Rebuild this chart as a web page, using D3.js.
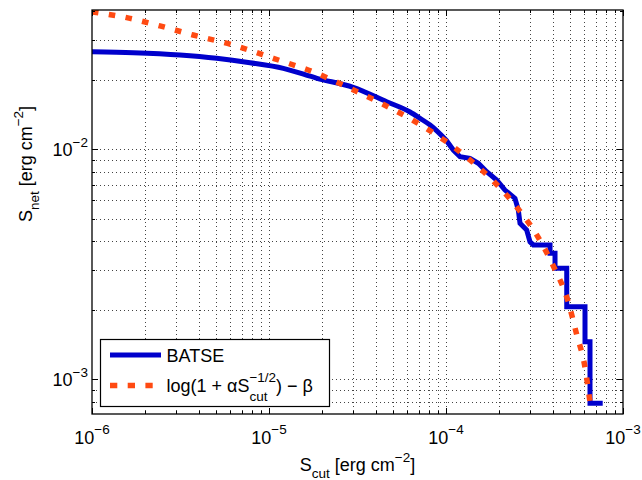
<!DOCTYPE html>
<html>
<head>
<meta charset="utf-8">
<script src="https://cdn.jsdelivr.net/npm/d3@7"></script>
<style>
  html, body { margin: 0; padding: 0; background: #fff; }
  svg text { font-family: "Liberation Sans", Arial, Helvetica, sans-serif; fill: #000; }
</style>
</head>
<body>
<div id="chart"></div>
<script>
// ---------------------------------------------------------------------------
// Data
// ---------------------------------------------------------------------------
// BATSE cumulative curve; the first SMOOTH_N points are the smooth part,
// the rest is the staircase tail.
const batseX = [1e-6, 1.712e-6, 3.14e-6, 5.06e-6, 7.81e-6, 1.205e-5, 1.866e-5, 2.99e-5,
  4.62e-5, 6.26e-5, 7.13e-5, 8.13e-5, 1.0e-4,
  1.1e-4, 1.2e-4, 1.366e-4, 1.522e-4, 1.698e-4, 1.934e-4, 2.154e-4, 2.453e-4,
  2.562e-4, 2.619e-4, 2.857e-4, 2.983e-4, 3.113e-4, 3.87e-4, 3.87e-4, 4.13e-4,
  4.13e-4, 4.81e-4, 4.81e-4, 6.10e-4, 6.10e-4, 6.51e-4, 6.51e-4, 7.68e-4];
const batseY = [0.02656, 0.0263, 0.0257, 0.02487, 0.02379, 0.0225, 0.02036, 0.01861,
  0.01611, 0.01453, 0.01364, 0.01275, 0.01098,
  0.00993, 0.00929, 0.00914, 0.00869, 0.00799, 0.00735, 0.00665, 0.00612,
  0.00545, 0.00477, 0.00446, 0.00396, 0.00384, 0.00384, 0.00353, 0.00353,
  0.00304, 0.00304, 0.00207, 0.00207, 0.001457, 0.001457, 7.86e-4, 7.86e-4];
const SMOOTH_N = 13;

// fitted curve log(1 + a S^-1/2) - b
const fitX = [1e-6, 1.64e-6, 2.42e-6, 3.73e-6, 6.28e-6, 1.057e-5, 1.86e-5, 2.87e-5,
  4.24e-5, 6.32e-5, 9.33e-5, 1.349e-4, 1.866e-4, 2.54e-4, 3.30e-4, 4.07e-4, 4.87e-4,
  5.47e-4, 6.10e-4, 6.51e-4];
const fitY = [0.0396, 0.0371, 0.0344, 0.0314, 0.0284, 0.02487, 0.0214, 0.01842,
  0.01594, 0.01354, 0.01123, 0.00907, 0.00723, 0.00554, 0.00417, 0.00307, 0.00221,
  0.00157, 0.001127, 7.94e-4];

const xDomain = [1e-6, 1e-3];
const yDomain = [7.065e-4, 0.04034];
const xTickValues = [1e-6, 1e-5, 1e-4, 1e-3];
const yTickValues = [1e-3, 1e-2];

const BLUE = '#0000cc';
const ORANGE = '#ff4a12';

// ---------------------------------------------------------------------------
// Layout
// ---------------------------------------------------------------------------
const W = 642, H = 480;
const M = { left: 92, right: 19, top: 10, bottom: 66 };
const FS = 18, FS_SCRIPT = 13.5;

const svg = d3.select('#chart').append('svg')
  .attr('width', W).attr('height', H);

const x = d3.scaleLog().domain(xDomain).range([M.left, W - M.right]);
const y = d3.scaleLog().domain(yDomain).range([H - M.bottom, M.top]);

// all minor positions k * 10^n inside the domain
function logSteps(domain) {
  const out = [];
  const lo = Math.floor(Math.log10(domain[0])), hi = Math.ceil(Math.log10(domain[1]));
  for (let n = lo; n <= hi; n++) {
    for (let k = 1; k <= 9; k++) {
      const v = k * Math.pow(10, n);
      if (v >= domain[0] * 0.9999 && v <= domain[1] * 1.0001) out.push(v);
    }
  }
  return out;
}
const xGrid = logSteps(xDomain);
const yGrid = logSteps(yDomain);
const isMajor = v => Math.abs(Math.log10(v) - Math.round(Math.log10(v))) < 1e-6;

// Grid (dotted, major and minor)
const grid = svg.append('g').attr('stroke', '#444').attr('stroke-width', 1)
  .attr('stroke-dasharray', '1,3').attr('shape-rendering', 'crispEdges');
grid.selectAll('.gx').data(xGrid.filter(v => v > xDomain[0] && v < xDomain[1])).join('line')
  .attr('x1', d => Math.round(x(d)) + 0.5).attr('x2', d => Math.round(x(d)) + 0.5)
  .attr('y1', M.top).attr('y2', H - M.bottom);
grid.selectAll('.gy').data(yGrid.filter(v => y(v) > M.top + 2)).join('line')
  .attr('y1', d => Math.round(y(d)) + 0.5).attr('y2', d => Math.round(y(d)) + 0.5)
  .attr('x1', M.left).attr('x2', W - M.right);

// Series
const plot = svg.append('g');
plot.append('defs').append('clipPath').attr('id', 'clip')
  .append('rect').attr('x', M.left).attr('y', M.top)
  .attr('width', W - M.left - M.right).attr('height', H - M.top - M.bottom);

const lineSmooth = d3.line().x(d => x(d[0])).y(d => y(d[1])).curve(d3.curveMonotoneX);
const lineStep = d3.line().x(d => x(d[0])).y(d => y(d[1]));

const batse = d3.zip(batseX, batseY);
const batsePath = lineSmooth(batse.slice(0, SMOOTH_N)) +
  lineStep(batse.slice(SMOOTH_N - 1)).replace(/^M/, 'L');

plot.append('path')
  .attr('d', batsePath)
  .attr('fill', 'none')
  .attr('stroke', BLUE)
  .attr('stroke-width', 5)
  .attr('stroke-linejoin', 'miter')
  .attr('clip-path', 'url(#clip)');

plot.append('path')
  .datum(d3.zip(fitX, fitY))
  .attr('d', lineSmooth)
  .attr('fill', 'none')
  .attr('stroke', ORANGE)
  .attr('stroke-width', 5.5)
  .attr('stroke-dasharray', '6.5,10.5')
  .attr('clip-path', 'url(#clip)');

// Ticks (inside, all four sides)
const ticks = svg.append('g').attr('stroke', '#000').attr('stroke-width', 1);
xGrid.forEach(v => {
  const len = isMajor(v) ? 6 : 3, px = Math.round(x(v)) + 0.5;
  ticks.append('line').attr('x1', px).attr('x2', px).attr('y1', H - M.bottom).attr('y2', H - M.bottom - len);
  ticks.append('line').attr('x1', px).attr('x2', px).attr('y1', M.top).attr('y2', M.top + len);
});
yGrid.forEach(v => {
  const len = isMajor(v) ? 6 : 3, py = Math.round(y(v)) + 0.5;
  ticks.append('line').attr('y1', py).attr('y2', py).attr('x1', M.left).attr('x2', M.left + len);
  ticks.append('line').attr('y1', py).attr('y2', py).attr('x1', W - M.right).attr('x2', W - M.right - len);
});

// Box
svg.append('rect')
  .attr('x', M.left).attr('y', M.top)
  .attr('width', W - M.left - M.right).attr('height', H - M.top - M.bottom)
  .attr('fill', 'none').attr('stroke', '#000').attr('stroke-width', 1.3);

// ---------------------------------------------------------------------------
// Rich text helper: parts are strings or {sub, sup}
// ---------------------------------------------------------------------------
function rich(parent, parts, opts) {
  const g = parent.append('g');
  const inner = g.append('g');
  let cx = 0;
  parts.forEach(p => {
    if (typeof p === 'string') {
      const t = inner.append('text').attr('x', cx).attr('y', 0)
        .attr('font-size', FS).attr('xml:space', 'preserve').text(p);
      cx += t.node().getComputedTextLength();
    } else {
      let w = 0;
      if (p.sub) {
        const t = inner.append('text').attr('x', cx).attr('y', opts.subDy || 8)
          .attr('font-size', FS_SCRIPT).text(p.sub);
        w = Math.max(w, t.node().getComputedTextLength());
      }
      if (p.sup) {
        const t = inner.append('text').attr('x', cx).attr('y', -(opts.supDy || 9))
          .attr('font-size', FS_SCRIPT).text(p.sup);
        w = Math.max(w, t.node().getComputedTextLength());
      }
      cx += w;
    }
  });
  const shift = opts.anchor === 'middle' ? -cx / 2 : opts.anchor === 'end' ? -cx : 0;
  inner.attr('transform', `translate(${shift},0)`);
  g.attr('transform', `translate(${opts.x},${opts.y})` + (opts.rotate ? ` rotate(${opts.rotate})` : ''));
  return g;
}

// Tick labels
xTickValues.forEach(v => {
  rich(svg, ['10', { sup: '\u2212' + Math.round(-Math.log10(v)) }],
    { x: x(v), y: 443.5, anchor: 'middle', supDy: 9.5 });
});
yTickValues.forEach(v => {
  rich(svg, ['10', { sup: '\u2212' + Math.round(-Math.log10(v)) }],
    { x: 88, y: y(v) + 7, anchor: 'end', supDy: 9.5 });
});

// Axis labels
rich(svg, ['S', { sub: 'cut' }, ' [erg cm', { sup: '\u22122' }, ']'],
  { x: (M.left + W - M.right) / 2, y: 471, anchor: 'middle', subDy: 7, supDy: 9 });
rich(svg, ['S', { sub: 'net' }, ' [erg cm', { sup: '\u22122' }, ']'],
  { x: 32, y: 164, anchor: 'middle', rotate: -90, subDy: 7, supDy: 9 });

// Legend
const legend = svg.append('g');
legend.append('rect')
  .attr('x', 100.5).attr('y', 339.5).attr('width', 229).attr('height', 67)
  .attr('fill', '#fff').attr('stroke', '#000').attr('stroke-width', 1.2);
legend.append('line')
  .attr('x1', 110).attr('x2', 161).attr('y1', 355).attr('y2', 355)
  .attr('stroke', BLUE).attr('stroke-width', 5);
legend.append('line')
  .attr('x1', 110).attr('x2', 153).attr('y1', 385.5).attr('y2', 385.5)
  .attr('stroke', ORANGE).attr('stroke-width', 5.5).attr('stroke-dasharray', '7.3,10.4');
rich(legend, ['BATSE'], { x: 166.5, y: 361.7, anchor: 'start' });
rich(legend, ['log(1 + \u03b1S', { sub: 'cut', sup: '\u22121/2' }, ') \u2212 \u03b2'],
  { x: 166.5, y: 392, anchor: 'start', subDy: 8.5, supDy: 10 });
</script>
</body>
</html>
